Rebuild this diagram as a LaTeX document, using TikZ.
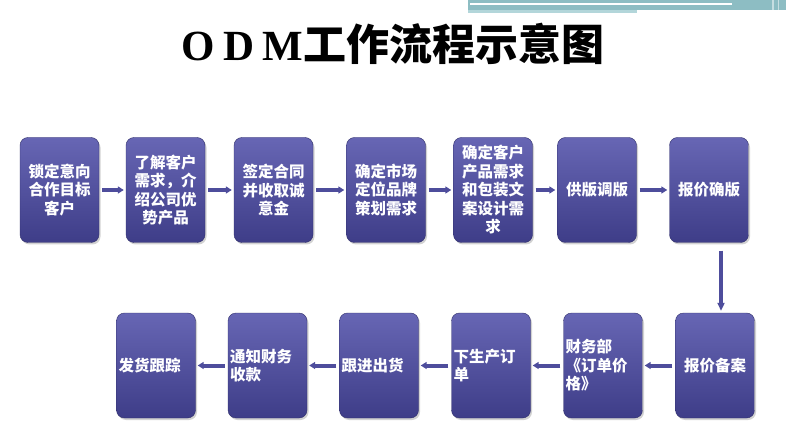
\documentclass[tikz,border=0pt]{standalone}
\usepackage{fontspec}
\newfontfamily\cjk{Noto Sans CJK SC}
\newfontfamily\titleserif{Liberation Serif}
\usetikzlibrary{shadows,arrows.meta,calc}
\definecolor{boxtop}{HTML}{6766B4}
\definecolor{boxbot}{HTML}{3E3D88}
\definecolor{boxmid}{HTML}{4E4D9C}
\definecolor{teal1}{HTML}{8DBDC3}
\definecolor{teal2}{HTML}{B3D6DA}
\tikzset{
  stepbox/.style={rectangle, rounded corners=8pt, minimum width=79pt, minimum height=105pt,
    top color=boxtop, bottom color=boxbot, draw=boxbot!80!black, line width=0.4pt,
    drop shadow={shadow xshift=1.5pt, shadow yshift=-2pt, opacity=0.35},
    text=white, font=\cjk\bfseries\fontsize{15.5}{18.5}\selectfont, align=center, inner sep=2pt},
  leftbox/.style={stepbox, align=left, text width=75pt},
  conn/.style={draw=boxmid, line width=4pt, -{Triangle[length=6pt,width=7pt]}, shorten <=3pt, shorten >=2pt},
  vconn/.style={draw=boxmid, line width=3.5pt, -{Triangle[length=8pt,width=7pt]}}
}
\begin{document}
\begin{tikzpicture}[x=1pt,y=-1pt]
\useasboundingbox (0,0) rectangle (786,435);
\fill[white] (0,0) rectangle (786,435);
% top-right decoration
\fill[teal1] (468,0) rectangle (786,10);
\fill[teal2] (468,10) rectangle (637,13);
\fill[white] (470,3.5) rectangle (732,5.5);
\fill[white,opacity=0.5] (772,0) rectangle (774,12);
\fill[white,opacity=0.5] (778,0) rectangle (779,12);
% title
\node (title) at (393,44) {{\titleserif\bfseries\fontsize{43}{43}\selectfont O\hspace{8pt}D\hspace{8pt}M}{\cjk\bfseries\fontsize{43}{43}\selectfont 工作流程示意图}};
% top row
\node[stepbox] (t1) at (59.5,190) {锁定意向\\合作目标\\客户};
\node[stepbox] (t2) at (165.5,190) {了解客户\\需求，介\\绍公司优\\势产品};
\node[stepbox] (t3) at (273.5,190) {签定合同\\并收取诚\\意金};
\node[stepbox] (t4) at (386,190) {确定市场\\定位品牌\\策划需求};
\node[stepbox] (t5) at (493,190) {确定客户\\产品需求\\和包装文\\案设计需\\求};
\node[stepbox] (t6) at (597,190) {供版调版};
\node[stepbox] (t7) at (709,190) {报价确版};
% bottom row
\node[stepbox] (b1) at (715,365.5) {报价备案};
\node[leftbox] (b2) at (603,365.5) {财务部\\《订单价\\格》};
\node[leftbox] (b3) at (491,365.5) {下生产订\\单};
\node[leftbox] (b4) at (379,365.5) {跟进出货};
\node[leftbox] (b5) at (267.5,365.5) {通知财务\\收款};
\node[leftbox] (b6) at (156,365.5) {发货跟踪};
% connectors
\draw[conn] (t1) -- (t2);
\draw[conn] (t2) -- (t3);
\draw[conn] (t3) -- (t4);
\draw[conn] (t4) -- (t5);
\draw[conn] (t5) -- (t6);
\draw[conn] (t6) -- (t7);
\coordinate (vtop) at ($(t7.south)+(12,8)$);
\coordinate (vbot) at ($(b1.north)+(6,-2)$);
\draw[vconn] (vtop) -- (vtop |- vbot);
\draw[conn] (b1) -- (b2);
\draw[conn] (b2) -- (b3);
\draw[conn] (b3) -- (b4);
\draw[conn] (b4) -- (b5);
\draw[conn] (b5) -- (b6);
\end{tikzpicture}
\end{document}
